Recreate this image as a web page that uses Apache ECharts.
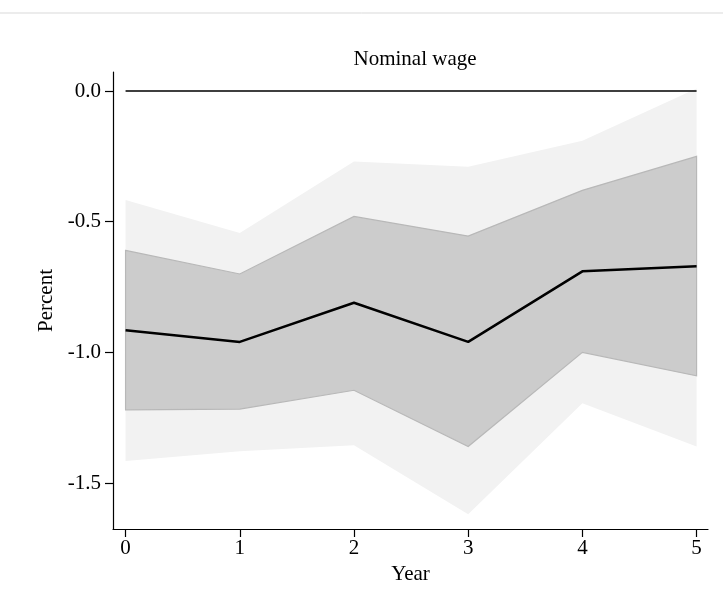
<!DOCTYPE html>
<html><head><meta charset="utf-8">
<script src="https://cdn.jsdelivr.net/npm/echarts@6/dist/echarts.min.js"></script>
<style>html,body{margin:0;padding:0;background:#fff}#c{width:723px;height:615px}</style>
</head><body><div id="c"></div>
<script>
const years = [0,1,2,3,4,5];
const point = [-0.915,-0.96,-0.81,-0.96,-0.69,-0.67];
const innerUpper = [-0.61,-0.70,-0.48,-0.555,-0.38,-0.25];
const innerLower = [-1.22,-1.217,-1.145,-1.36,-1.0,-1.09];
const outerUpper = [-0.417,-0.543,-0.27,-0.29,-0.19,0.01];
const outerLower = [-1.416,-1.378,-1.355,-1.62,-1.195,-1.36];
const zeroLine = [0,0,0,0,0,0];
const yTicks = [0.0,-0.5,-1.0,-1.5];

function band(upper, lower, fill, stroke, z){
  return {type:'custom', z:z, silent:true, data:[0],
    renderItem:function(params, api){
      const pts=[];
      for(let i=0;i<years.length;i++) pts.push(api.coord([years[i],upper[i]]));
      for(let i=years.length-1;i>=0;i--) pts.push(api.coord([years[i],lower[i]]));
      return {type:'polygon', shape:{points:pts}, style:{fill:fill, stroke:stroke, lineWidth:stroke?1.2:0}};
    }};
}
const font='"Liberation Serif", serif';
const chart=echarts.init(document.getElementById('c'));
chart.setOption({
  animation:false,
  title:{text:'Nominal wage', left:410, top:44, textAlign:'center',
    textStyle:{fontFamily:font,fontWeight:'normal',fontSize:21,color:'#000'}},
  graphic:[{type:'line',shape:{x1:0,y1:13,x2:723,y2:13},style:{stroke:'#d9d9d9',lineWidth:1}}],
  grid:{left:113,right:15,top:72,bottom:86},
  xAxis:{type:'value',min:-0.11,max:5.1,interval:1,
    name:'Year',nameLocation:'middle',nameGap:33,
    nameTextStyle:{fontFamily:font,fontSize:21,color:'#000'},
    axisLine:{onZero:false,lineStyle:{color:'#000',width:1.2}},
    axisTick:{show:true,length:8,lineStyle:{color:'#000',width:1.2},customValues:years},
    axisLabel:{fontFamily:font,fontSize:21,color:'#000',margin:9,customValues:years,formatter:v=>String(v)},
    splitLine:{show:false}},
  yAxis:{type:'value',min:-1.676,max:0.073,
    name:'Percent',nameLocation:'middle',nameGap:54,
    nameTextStyle:{fontFamily:font,fontSize:21,color:'#000'},
    axisLine:{show:true,onZero:false,lineStyle:{color:'#000',width:1.2}},
    axisTick:{show:true,length:8,lineStyle:{color:'#000',width:1.2},customValues:yTicks},
    axisLabel:{fontFamily:font,fontSize:21,color:'#000',margin:12,customValues:yTicks,formatter:v=>v.toFixed(1)},
    splitLine:{show:false}},
  series:[
    band(outerUpper,outerLower,'#f2f2f2',null,1),
    band(innerUpper,innerLower,'#cccccc','#b8b8b8',2),
    {type:'line',z:3,data:years.map((x,i)=>[x,zeroLine[i]]),symbol:'none',lineStyle:{color:'#000',width:1.5}},
    {type:'line',z:4,data:years.map((x,i)=>[x,point[i]]),symbol:'none',lineStyle:{color:'#000',width:2.5}}
  ]
});
</script></body></html>
